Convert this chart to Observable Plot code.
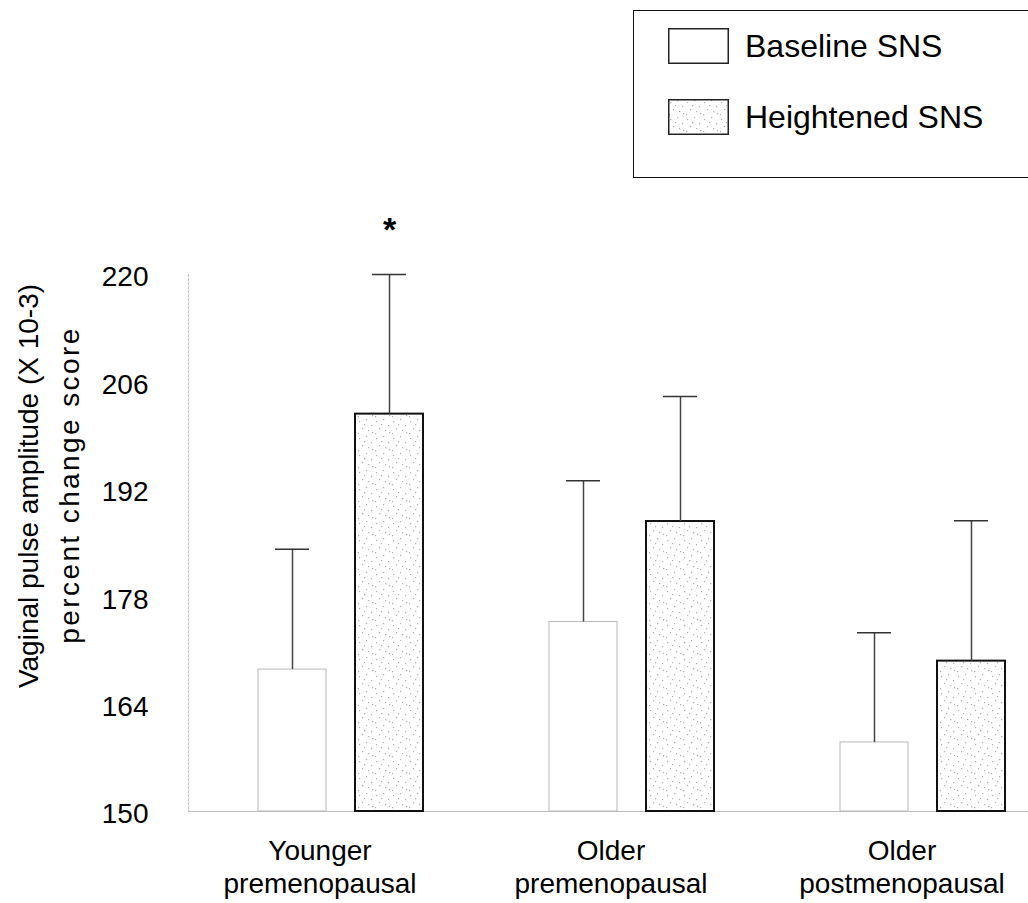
<!DOCTYPE html>
<html>
<head>
<meta charset="utf-8">
<script src="https://cdn.jsdelivr.net/npm/d3@7"></script>
<script src="https://cdn.jsdelivr.net/npm/@observablehq/plot@0.6"></script>
<style>
  html, body { margin: 0; padding: 0; overflow: hidden; background: #fff; }
  #page { position: relative; width: 1028px; height: 903px; overflow: hidden;
          font-family: "Liberation Sans", Arial, Helvetica, sans-serif; color: #000; }
  #legend { position: relative; height: 180px; }
  #legend .box { position: absolute; left: 633px; top: 10px; width: 440px; height: 168px;
                 border: 1.5px solid #111; box-sizing: border-box; }
  #legend .item { position: absolute; left: 34px; height: 36px; display: flex; align-items: center;
                  font-size: 32px; line-height: 1; white-space: nowrap; }
  #legend .item svg { display: block; margin-right: 16px; }
  #chart svg { display: block; }
</style>
</head>
<body>
<div id="page">
  <div id="legend"><div class="box"></div></div>
  <div id="chart"></div>
</div>
<script>
// Groups of women, the two SNS conditions, and mean ± error per group
const groups = ["Younger premenopausal", "Older premenopausal", "Older postmenopausal"];
const groupLabels = ["Younger\npremenopausal", "Older\npremenopausal", "Older\npostmenopausal"];
const series = ["Baseline SNS", "Heightened SNS"];
const baselineMean = [168.5, 174.7, 159.0];
const baselineErr = [15.7, 18.4, 14.3];
const heightenedMean = [201.8, 187.8, 169.6];
const heightenedErr = [18.2, 16.3, 18.3];
const heightenedSig = ["*", "", ""];
const yTicks = [150, 164, 178, 192, 206, 220];
const yTitleLines = ["Vaginal pulse amplitude (X 10-3)", "percent change score"];

const rows = groups.flatMap((g, i) => [
  {group: g, series: series[0], mean: baselineMean[i], err: baselineErr[i], sig: ""},
  {group: g, series: series[1], mean: heightenedMean[i], err: heightenedErr[i], sig: heightenedSig[i]}
]);
const yBase = 150;
const font = "'Liberation Sans', Arial, Helvetica, sans-serif";

// Sparse dot texture used for the heightened condition
const dotTile = [[2, 3], [9, 1], [14, 7], [5, 10], [11, 12], [7, 6], [15, 14], [1, 15]];
function addStipple(svgNode, id) {
  const defs = d3.select(svgNode).insert("defs", ":first-child");
  const pat = defs.append("pattern").attr("id", id)
    .attr("patternUnits", "userSpaceOnUse").attr("width", 17).attr("height", 17);
  pat.append("rect").attr("width", 17).attr("height", 17).attr("fill", "#fff");
  dotTile.forEach(([x, y]) => pat.append("rect").attr("x", x).attr("y", y)
    .attr("width", 1.2).attr("height", 1.2).attr("fill", "#b0b0b0"));
}

const chart = Plot.plot({
  width: 1028,
  height: 723,
  marginTop: 94,
  marginBottom: 92,
  marginLeft: 188,
  marginRight: 0,
  style: {fontFamily: font, fontSize: "28px", color: "#000", background: "#fff"},
  fx: {domain: groups, range: [188, 188 + 3 * 291], padding: 0, axis: null},
  x: {domain: series, paddingInner: 0.2966, paddingOuter: 0.6467, align: 0.553, axis: null},
  y: {domain: [150, 220]},
  marks: [
    Plot.ruleY([yBase], {stroke: "#bdbdbd", strokeWidth: 1}),
    Plot.frame({anchor: "left", facetAnchor: "left", stroke: "#c4c4c4", strokeDasharray: "2 2"}),
    Plot.barY(rows.filter(d => d.series === series[0]), {
      fx: "group", x: "series", y1: yBase, y2: "mean",
      fill: "#fff", stroke: "#b8b8b8", strokeWidth: 1
    }),
    Plot.barY(rows.filter(d => d.series === series[1]), {
      fx: "group", x: "series", y1: yBase, y2: "mean",
      fill: "url(#stipple)", stroke: "#111", strokeWidth: 2
    }),
    Plot.ruleX(rows, {
      fx: "group", x: "series", y1: "mean", y2: d => d.mean + d.err,
      stroke: "#444", strokeWidth: 1.5
    }),
    Plot.tickY(rows, {
      fx: "group", x: "series", y: d => d.mean + d.err, inset: 17,
      stroke: "#333", strokeWidth: 1.5
    }),
    Plot.text(rows.filter(d => d.sig), {
      fx: "group", x: "series", y: d => d.mean + d.err, text: "sig",
      dy: -44, fontSize: 34, fontWeight: "bold"
    }),
    Plot.axisY({ticks: yTicks, tickSize: 0, tickPadding: 40, fontSize: 28, dy: 3, label: null}),
    // y-axis title, two rotated lines
    Plot.text([yTitleLines[0]], {
      fx: () => groups[0], frameAnchor: "left", rotate: -90, textAnchor: "middle",
      dx: -159, dy: -57, fontSize: 28
    }),
    Plot.text([yTitleLines[1]], {
      fx: () => groups[0], frameAnchor: "left", rotate: -90, textAnchor: "middle",
      dx: -118, dy: -58, fontSize: 28
    }),
    Plot.axisFx({
      anchor: "bottom", tickSize: 0, tickPadding: 25, fontSize: 28, lineHeight: 1.17,
      tickFormat: g => groupLabels[groups.indexOf(g)], label: null, dx: -14
    })
  ]
});
addStipple(chart, "stipple");
// the second title line is set with slightly wider tracking
d3.select(chart).selectAll("text")
  .filter(function() { return this.textContent === yTitleLines[1]; })
  .attr("letter-spacing", 2.4);
document.getElementById("chart").appendChild(chart);

// Legend: one swatch per condition
const box = d3.select("#legend .box");
series.forEach((name, i) => {
  const item = box.append("div").attr("class", "item").style("top", (i === 0 ? 17 : 88) + "px");
  const sw = item.append("svg").attr("width", 61).attr("height", 36);
  if (i === 1) addStipple(sw.node(), "stipple-legend");
  sw.append("rect").attr("x", 0.75).attr("y", 0.75).attr("width", 59.5).attr("height", 34.5)
    .attr("fill", i === 1 ? "url(#stipple-legend)" : "#fff")
    .attr("stroke", "#222").attr("stroke-width", 1.5);
  item.append("span").text(name);
});
</script>
</body>
</html>
